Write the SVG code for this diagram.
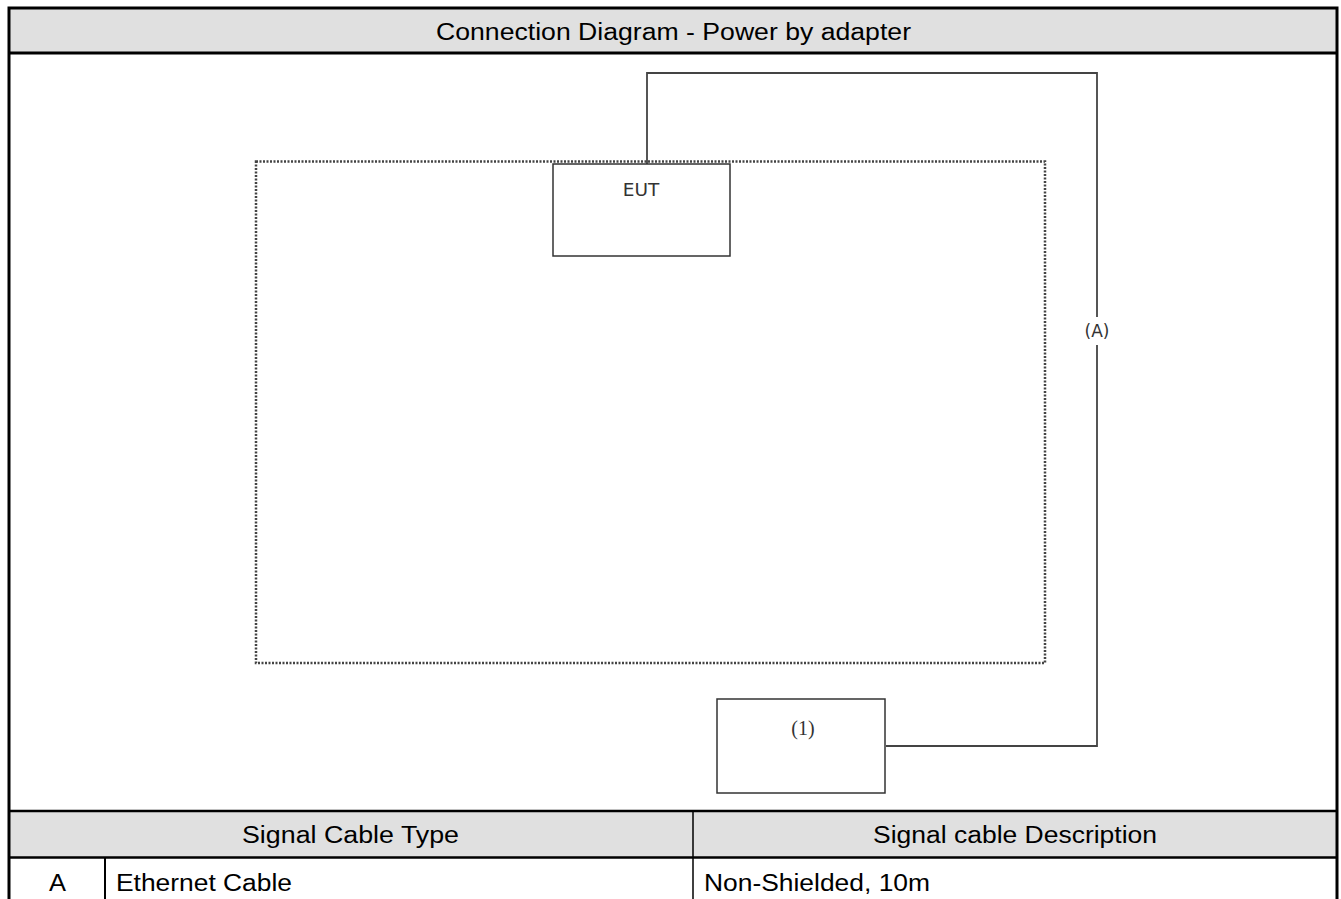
<svg xmlns="http://www.w3.org/2000/svg" width="1341" height="899" viewBox="0 0 1341 899">
<style>
.t{font-family:"Liberation Sans",Arial,sans-serif;font-size:23.5px;fill:#000}
.frame{stroke:#000;stroke-width:3;fill:none}
.hdr{fill:#e0e0e0}
.box{fill:#fff;stroke:#333;stroke-width:1.5}
.wire{fill:none;stroke:#444;stroke-width:1.8}
.lbl{font-family:"DejaVu Sans","Liberation Sans",sans-serif;font-size:18.5px;fill:#333;text-anchor:middle}
.ser{font-family:"Liberation Serif","Times New Roman",serif;font-size:20px;fill:#333;text-anchor:middle}
</style>
<rect width="1341" height="899" fill="#fff"/>
<rect class="hdr" x="9" y="9" width="1327" height="44"/>
<rect class="hdr" x="9" y="811" width="1327" height="46"/>
<g id="table">
<path class="frame" d="M9,910 V8 H1337 V910"/>
<line x1="8" y1="53" x2="1337" y2="53" stroke="#000" stroke-width="3"/>
<line x1="8" y1="811" x2="1337" y2="811" stroke="#000" stroke-width="2.5"/>
<line x1="8" y1="857.5" x2="1337" y2="857.5" stroke="#000" stroke-width="2.5"/>
<line x1="693" y1="811" x2="693" y2="899" stroke="#000" stroke-width="1.5"/>
<line x1="105" y1="857" x2="105" y2="899" stroke="#000" stroke-width="2"/>
<text class="t" x="436" y="40" textLength="475" lengthAdjust="spacingAndGlyphs">Connection Diagram - Power by adapter</text>
<text class="t" x="242" y="843" textLength="217" lengthAdjust="spacingAndGlyphs">Signal Cable Type</text>
<text class="t" x="873" y="843" textLength="284" lengthAdjust="spacingAndGlyphs">Signal cable Description</text>
<text class="t" x="49" y="891" textLength="17" lengthAdjust="spacingAndGlyphs">A</text>
<text class="t" x="116" y="891" textLength="176" lengthAdjust="spacingAndGlyphs">Ethernet Cable</text>
<text class="t" x="704" y="891" textLength="226" lengthAdjust="spacingAndGlyphs">Non-Shielded, 10m</text>
</g>
<g id="area">
<rect x="256" y="161.5" width="789" height="501.5" fill="none" stroke="#444" stroke-width="2.5" stroke-dasharray="2,1.5"/>
</g>
<g id="connectors">
<path class="wire" d="M647,164 V73 H1097 V317"/>
<path class="wire" d="M1097,345 V746 H886"/>
<text class="lbl" x="1097" y="337" style="font-size:17px">(A)</text>
</g>
<g id="eut">
<rect class="box" x="553" y="164" width="177" height="92"/>
<text class="lbl" x="641" y="196">EUT</text>
</g>
<g id="n1">
<rect class="box" x="717" y="699" width="168" height="94"/>
<text class="ser" x="803" y="735">(1)</text>
</g>
</svg>
